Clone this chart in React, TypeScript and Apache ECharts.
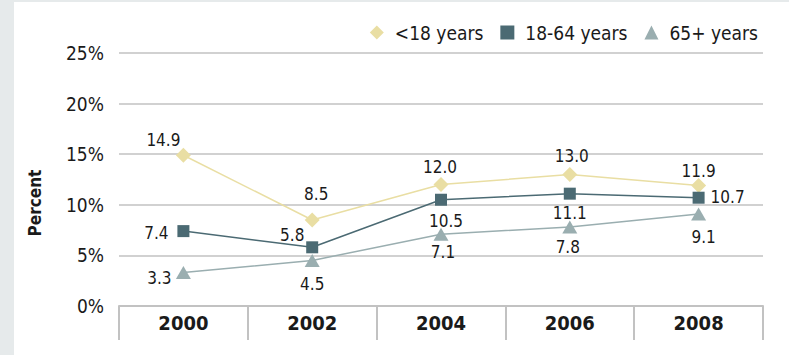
import React, { useEffect, useRef } from "react";
import * as echarts from "echarts";

const years = ["2000", "2002", "2004", "2006", "2008"];
const under18 = [14.9, 8.5, 12.0, 13.0, 11.9];
const age18to64 = [7.4, 5.8, 10.5, 11.1, 10.7];
const age65plus = [3.3, 4.5, 7.1, 7.8, 9.1];
const seriesNames = ["<18 years", "18-64 years", "65+ years"];
const yTicks = [0, 5, 10, 15, 20, 25];

// label offsets (px) relative to each point, for layout only
const offUnder18 = [[-20, -15], [4, -26], [-1, -18], [2, -18], [0, -15]];
const off18to64 = [[-27, 2], [-20, -12], [5, 21], [0, 19], [29, -1]];
const off65plus = [[-24, 5], [0, 24], [2, 18], [-2, 20], [5, 23]];

const FONT = "'DejaVu Sans Condensed', 'Liberation Sans Narrow', 'Noto Sans', sans-serif";

export default function App() {
  const ref = useRef<HTMLDivElement>(null);
  useEffect(() => {
    document.body.style.margin = "0";
    const chart = echarts.init(ref.current!, undefined, { renderer: "svg" });
    const mk = (vals: number[], offs: number[][]) =>
      vals.map((v, i) => ({
        value: v,
        label: { show: true, position: "inside", offset: offs[i], formatter: v.toFixed(1) },
      }));
    const labelStyle = { color: "#1a1a1a", fontSize: 17, fontFamily: FONT };
    chart.setOption({
      animation: false,
      backgroundColor: "#e6eaeb",
      textStyle: { fontFamily: FONT },
      graphic: [
        { type: "rect", z: -10, shape: { x: 14, y: 2, width: 789, height: 360 }, style: { fill: "#ffffff" }, silent: true },
        {
          type: "text",
          x: 35,
          y: 203,
          rotation: Math.PI / 2,
          style: { text: "Percent", fontSize: 17, fontWeight: "bold", fontFamily: FONT, fill: "#1a1a1a", textAlign: "center", textVerticalAlign: "middle" },
        },
      ],
      legend: {
        right: 26,
        top: 18,
        itemWidth: 14,
        itemHeight: 14,
        itemGap: 17,
        textStyle: { fontSize: 19, color: "#1a1a1a", fontFamily: FONT, padding: [0, 0, 0, 6] },
        data: [
          { name: seriesNames[0], icon: "diamond" },
          { name: seriesNames[1], icon: "rect" },
          { name: seriesNames[2], icon: "triangle" },
        ],
      },
      grid: { left: 119, right: 26, top: 53, bottom: 49, containLabel: false },
      xAxis: {
        type: "category",
        data: years,
        boundaryGap: true,
        axisLine: { show: true, lineStyle: { color: "#c2c2c2", width: 2 } },
        axisTick: { show: true, length: 34, lineStyle: { color: "#c2c2c2", width: 2 } },
        axisLabel: { fontSize: 20, fontWeight: "bold", color: "#1a1a1a", margin: 7, fontFamily: FONT },
        splitLine: { show: false },
      },
      yAxis: {
        type: "value",
        min: yTicks[0],
        max: yTicks[yTicks.length - 1],
        interval: 5,
        axisLine: { show: false },
        axisTick: { show: false },
        axisLabel: { fontSize: 19, color: "#1a1a1a", margin: 15, formatter: "{value}%", fontFamily: FONT },
        splitLine: { lineStyle: { color: "#c2c2c2", width: 1.5 } },
      },
      series: [
        {
          name: seriesNames[0],
          type: "line",
          data: mk(under18, offUnder18),
          symbol: "diamond",
          symbolSize: 15,
          itemStyle: { color: "#e9dea3" },
          lineStyle: { color: "#e9dea3", width: 1.5 },
          label: labelStyle,
          z: 3,
        },
        {
          name: seriesNames[1],
          type: "line",
          data: mk(age18to64, off18to64),
          symbol: "rect",
          symbolSize: 12,
          itemStyle: { color: "#4b6a73" },
          lineStyle: { color: "#4b6a73", width: 1.5 },
          label: labelStyle,
          z: 3,
        },
        {
          name: seriesNames[2],
          type: "line",
          data: mk(age65plus, off65plus),
          symbol: "triangle",
          symbolSize: [15, 13],
          itemStyle: { color: "#9aaeb0" },
          lineStyle: { color: "#9aaeb0", width: 1.5 },
          label: labelStyle,
          z: 3,
        },
      ],
    });
    return () => chart.dispose();
  }, []);
  return <div ref={ref} style={{ width: 789, height: 355 }} />;
}
